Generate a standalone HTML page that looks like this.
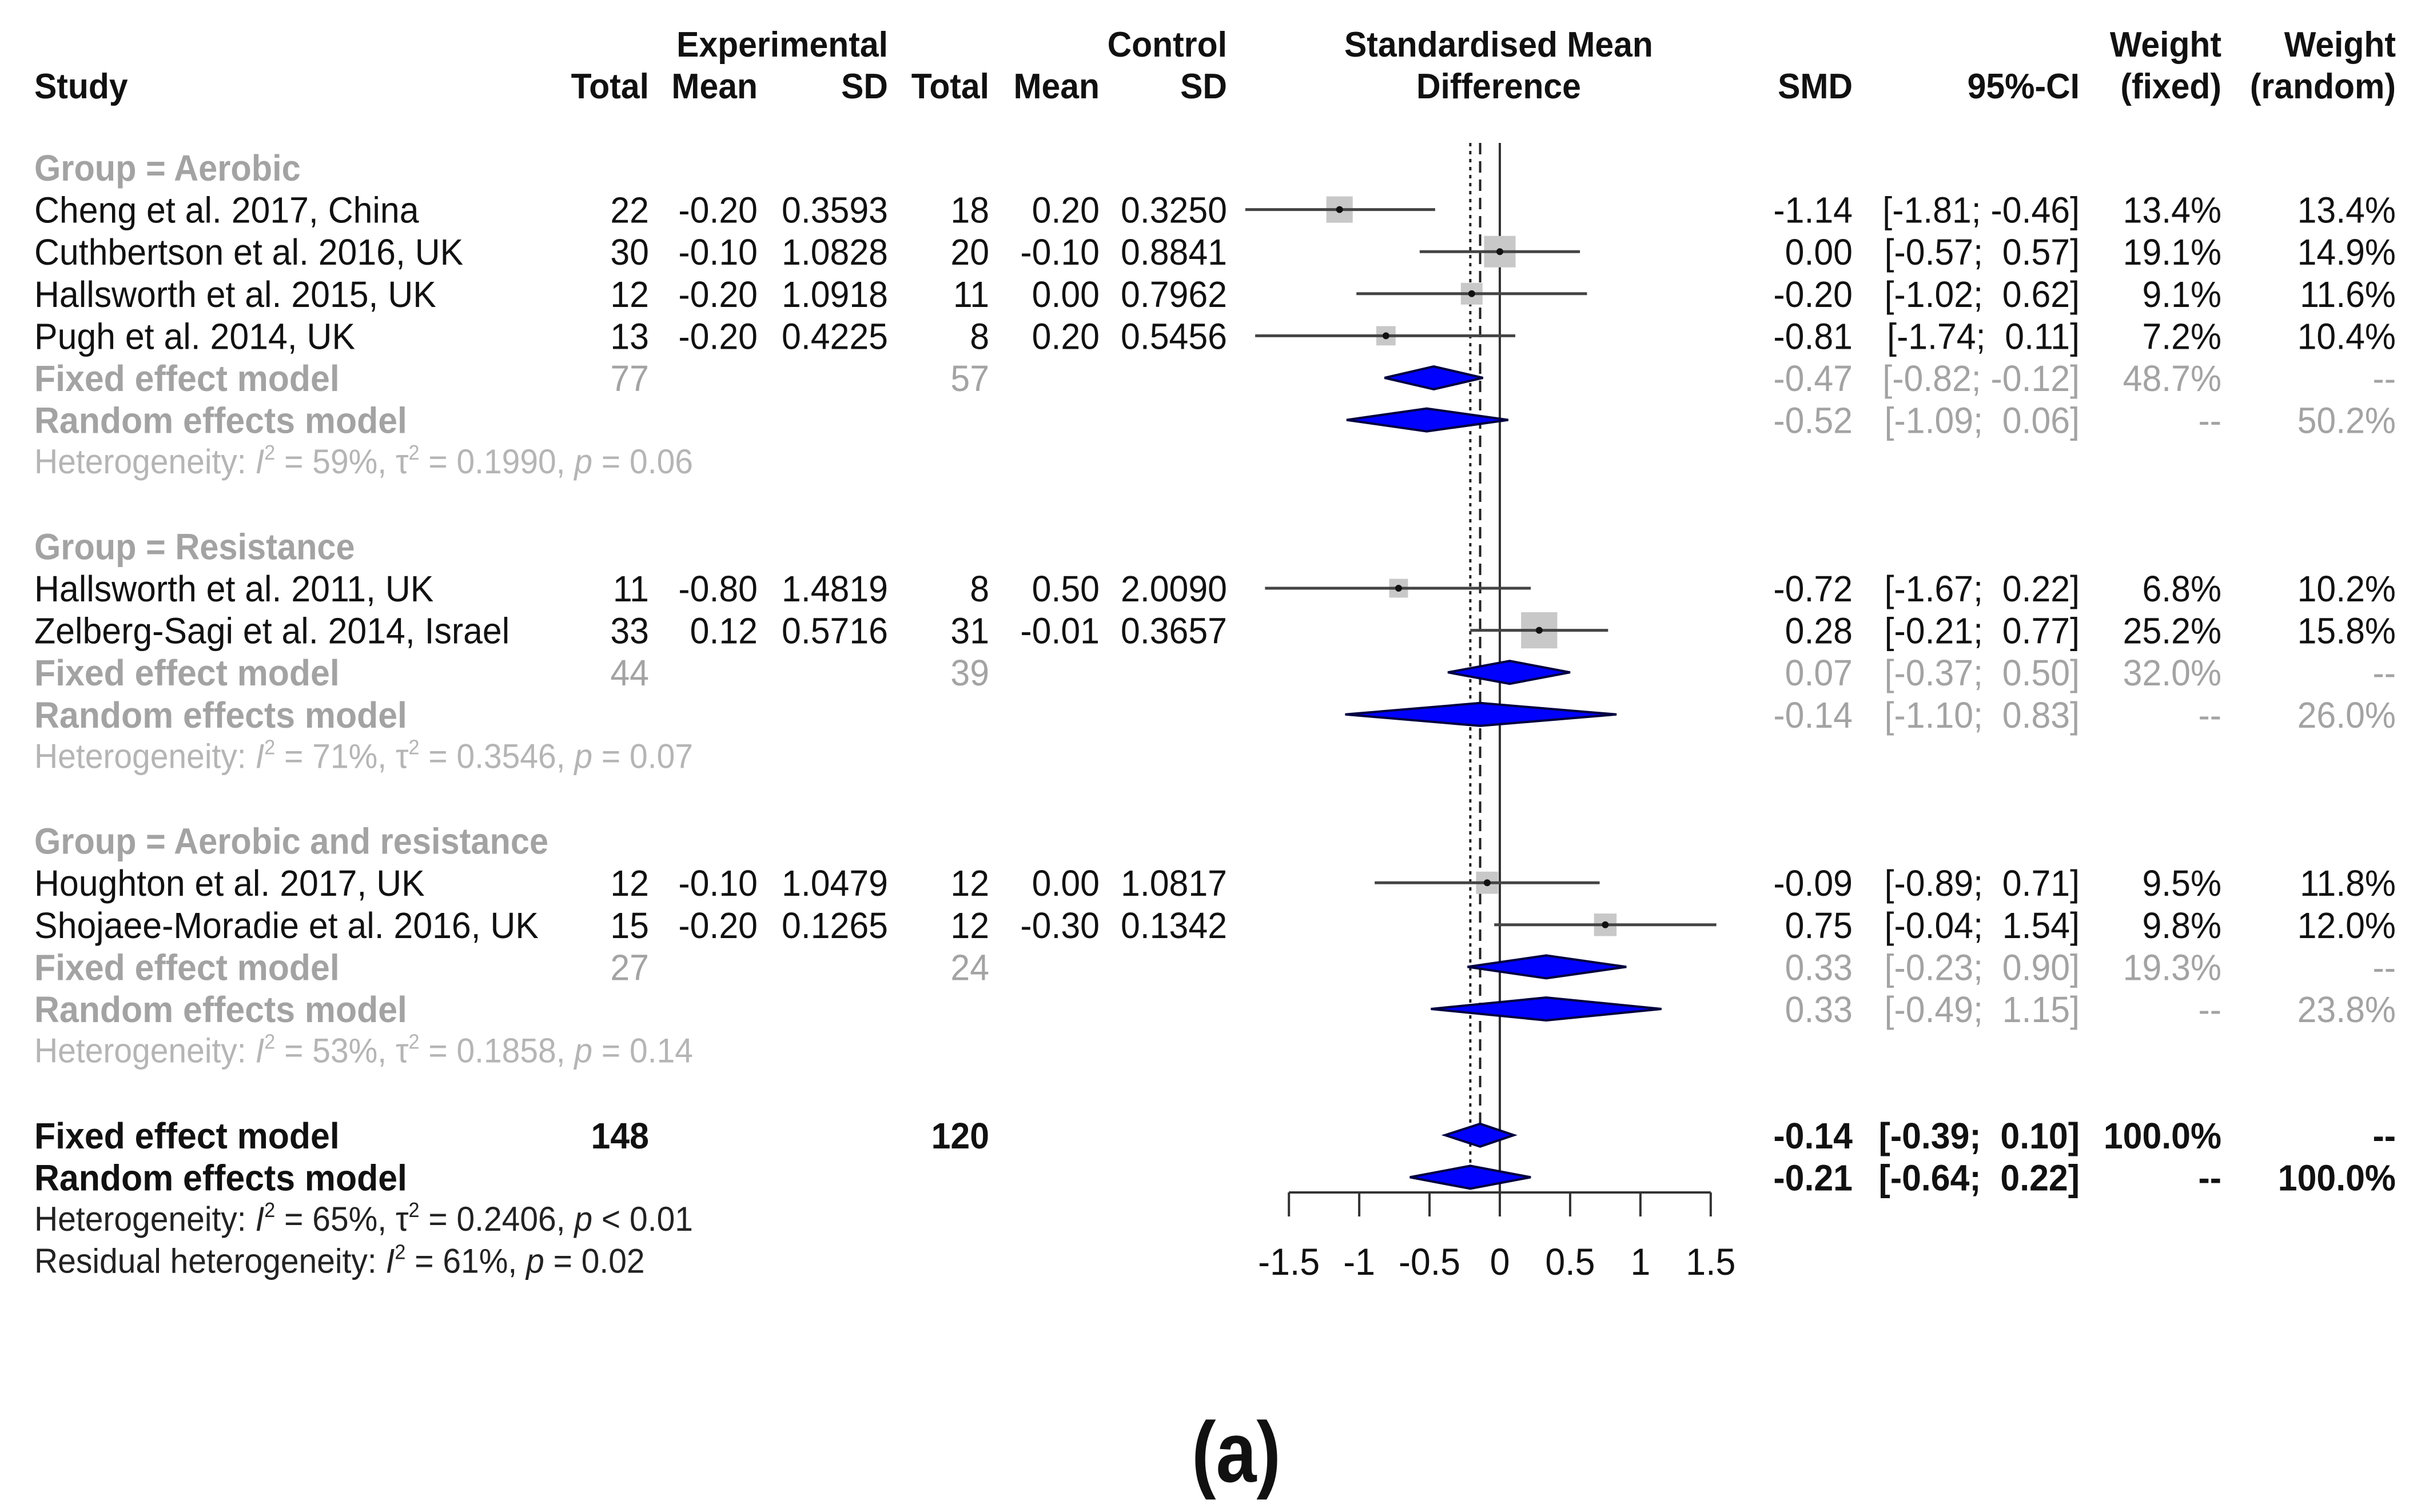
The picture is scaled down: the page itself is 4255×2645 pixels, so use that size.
<!DOCTYPE html>
<html><head><meta charset="utf-8"><style>
html,body{margin:0;padding:0;background:#fff;}
svg{display:block;font-family:"Liberation Sans",Arial,sans-serif;}
text{white-space:pre;}
</style></head><body>
<svg id="chart" width="4255" height="2645" viewBox="0 0 4255 2645" xmlns="http://www.w3.org/2000/svg">
<rect width="4255" height="2645" fill="#fff"/>
<g id="g"></g>
</svg>
<script>
// ---- data ----
const studyNames = ["Cheng et al. 2017, China","Cuthbertson et al. 2016, UK","Hallsworth et al. 2015, UK","Pugh et al. 2014, UK","Hallsworth et al. 2011, UK","Zelberg-Sagi et al. 2014, Israel","Houghton et al. 2017, UK","Shojaee-Moradie et al. 2016, UK"];
const studyRows = [1,2,3,4,10,11,17,18];
const expTotal = [22,30,12,13,11,33,12,15];
const expMean = ["-0.20","-0.10","-0.20","-0.20","-0.80","0.12","-0.10","-0.20"];
const expSD = ["0.3593","1.0828","1.0918","0.4225","1.4819","0.5716","1.0479","0.1265"];
const ctlTotal = [18,20,11,8,8,31,12,12];
const ctlMean = ["0.20","-0.10","0.00","0.20","0.50","-0.01","0.00","-0.30"];
const ctlSD = ["0.3250","0.8841","0.7962","0.5456","2.0090","0.3657","1.0817","0.1342"];
const smd = [-1.14,0.00,-0.20,-0.81,-0.72,0.28,-0.09,0.75];
const ciLo = [-1.81,-0.57,-1.02,-1.74,-1.67,-0.21,-0.89,-0.04];
const ciHi = [-0.46,0.57,0.62,0.11,0.22,0.77,0.71,1.54];
const wFixed = [13.4,19.1,9.1,7.2,6.8,25.2,9.5,9.8];
const wRandom = [13.4,14.9,11.6,10.4,10.2,15.8,11.8,12.0];

const groupNames = ["Group = Aerobic","Group = Resistance","Group = Aerobic and resistance"];
const groupRows = [0,9,16];
const grpExpTotal = [77,44,27];
const grpCtlTotal = [57,39,24];
const grpFixed = [-0.47,0.07,0.33];
const grpFixedLo = [-0.82,-0.37,-0.23];
const grpFixedHi = [-0.12,0.50,0.90];
const grpFixedW = ["48.7%","32.0%","19.3%"];
const grpRandom = [-0.52,-0.14,0.33];
const grpRandomLo = [-1.09,-1.10,-0.49];
const grpRandomHi = [0.06,0.83,1.15];
const grpRandomW = ["50.2%","26.0%","23.8%"];
const grpHet = [["59%","0.1990","= 0.06"],["71%","0.3546","= 0.07"],["53%","0.1858","= 0.14"]];

const allFixed = [-0.14,-0.39,0.10];
const allRandom = [-0.21,-0.64,0.22];
const allTotals = [148,120];
const xTicks = [-1.5,-1,-0.5,0,0.5,1,1.5];
const xTickLabels = ["-1.5","-1","-0.5","0","0.5","1","1.5"];

// ---- layout ----
const NS="http://www.w3.org/2000/svg";
const G=document.getElementById('g');
const X0=2623, XS=245.9;
function xs(v){return X0+v*XS;}
function ry(r){return 293+r*73.6;}
const SX=0.95;
function el(tag,attrs,parent){const e=document.createElementNS(NS,tag);for(const k in attrs)e.setAttribute(k,attrs[k]);(parent||G).appendChild(e);return e;}
function txt(x,y,s,opt){
  opt=opt||{};
  const sx=opt.sx||SX;
  const t=el('text',{x:(x/sx).toFixed(1),y:y.toFixed(1),'font-size':opt.size||64,fill:opt.fill||'#111','text-anchor':opt.anchor||'start','font-weight':opt.bold?'bold':'normal',transform:'scale('+sx+',1)'});
  t.textContent=s;
  return t;
}
function v2(v){return v.toFixed(2);}
function ci(lo,hi){return '['+v2(lo)+'; '+(hi<0?'':' ')+v2(hi)+']';}
const BL=23;
const GRAY='#a3a3a3', LGRAY='#b5b5b5';
const C={et:1135,em:1325,esd:1553,ct:1730,cm:1923,csd:2146,smd:3240,ci:3637,wf:3885,wr:4190};
function sup(){return '<tspan dy="-24" font-size="36">2</tspan><tspan dy="24">';}

// headers
let h;
h=txt(60,172,'Study',{bold:true,size:62});
h=txt(C.esd,99,'Experimental',{bold:true,size:62,anchor:'end'});
h=txt(C.csd,99,'Control',{bold:true,size:62,anchor:'end'});
[['Total',C.et],['Mean',C.em],['SD',C.esd],['Total',C.ct],['Mean',C.cm],['SD',C.csd],['SMD',C.smd],['95%-CI',C.ci],['(fixed)',C.wf],['(random)',C.wr]].forEach(a=>{
  const t=txt(a[1],172,a[0],{bold:true,size:62,anchor:'end'});
  
  
});
h=txt(C.wf,99,'Weight',{bold:true,size:62,anchor:'end'});
h=txt(C.wr,99,'Weight',{bold:true,size:62,anchor:'end'});
h=txt(2621,99,'Standardised Mean',{bold:true,size:62,anchor:'middle'});
h=txt(2621,172,'Difference',{bold:true,size:62,anchor:'middle'});

// reference lines
const yTop=250, yAxis=2086;
let ln=el('line',{x1:xs(0),x2:xs(0),y1:yTop,y2:yAxis,stroke:'#333','stroke-width':4});

ln=el('line',{x1:xs(allFixed[0]),x2:xs(allFixed[0]),y1:yTop,y2:ry(23),stroke:'#222','stroke-width':4,'stroke-dasharray':'20 12'});

ln=el('line',{x1:xs(allRandom[0]),x2:xs(allRandom[0]),y1:yTop,y2:ry(24),stroke:'#222','stroke-width':4,'stroke-dasharray':'6 8'});


function diamond(est,lo,hi,y,name){
  const p=el('polygon',{points:`${xs(lo)},${y} ${xs(est)},${y-20} ${xs(hi)},${y} ${xs(est)},${y+20}`,fill:'#0000ff',stroke:'#000040','stroke-width':4});
  
  
}

// studies
studyNames.forEach((n,i)=>{
  const y=ry(studyRows[i]);
  let t=txt(60,y+BL,n);
  const vals=[[C.et,String(expTotal[i])],[C.em,expMean[i]],[C.esd,expSD[i]],[C.ct,String(ctlTotal[i])],[C.cm,ctlMean[i]],[C.csd,ctlSD[i]],[C.smd,v2(smd[i])],[C.ci,ci(ciLo[i],ciHi[i])],[C.wf,wFixed[i].toFixed(1)+'%'],[C.wr,wRandom[i].toFixed(1)+'%']];
  vals.forEach(v=>{const tt=txt(v[0],y+BL,v[1],{anchor:'end'});});
  const s=12.6*Math.sqrt(wFixed[i]);
  const r=el('rect',{x:xs(smd[i])-s/2,y:y-s/2,width:s,height:s,fill:'#c8c8c8'});
  
  const l=el('line',{x1:xs(ciLo[i]),x2:xs(ciHi[i]),y1:y,y2:y,stroke:'#444','stroke-width':5});
  
  const d=el('circle',{cx:xs(smd[i]),cy:y,r:6,fill:'#111'});
  
});

// groups
groupNames.forEach((n,g)=>{
  const r0=groupRows[g];
  const nStud=studyRows.filter(r=>r>r0&&r<r0+7).length;
  const rf=r0+nStud+1, rr=rf+1, rh=rr+1;
  let t=txt(60,ry(r0)+BL,n,{fill:GRAY,bold:true,sx:0.93});
  t=txt(60,ry(rf)+BL,'Fixed effect model',{fill:GRAY,bold:true});
  t=txt(60,ry(rr)+BL,'Random effects model',{fill:GRAY,bold:true});
  [[C.et,String(grpExpTotal[g])],[C.ct,String(grpCtlTotal[g])],[C.smd,v2(grpFixed[g])],[C.ci,ci(grpFixedLo[g],grpFixedHi[g])],[C.wf,grpFixedW[g]],[C.wr,'--']].forEach(v=>{
    const tt=txt(v[0],ry(rf)+BL,v[1],{anchor:'end',fill:GRAY});});
  [[C.smd,v2(grpRandom[g])],[C.ci,ci(grpRandomLo[g],grpRandomHi[g])],[C.wf,'--'],[C.wr,grpRandomW[g]]].forEach(v=>{
    const tt=txt(v[0],ry(rr)+BL,v[1],{anchor:'end',fill:GRAY});});
  const ht=txt(60,ry(rh)+20,'',{fill:LGRAY,size:60,sx:0.95});
  
  
  ht.innerHTML='Heterogeneity: <tspan font-style="italic">I</tspan>'+sup()+' = '+grpHet[g][0]+', τ</tspan>'+sup()+' = '+grpHet[g][1]+', </tspan><tspan font-style="italic">p</tspan><tspan> '+grpHet[g][2]+'</tspan>';
  diamond(grpFixed[g],grpFixedLo[g],grpFixedHi[g],ry(rf),'group-fixed-diamond');
  diamond(grpRandom[g],grpRandomLo[g],grpRandomHi[g],ry(rr),'group-random-diamond');
});

// overall
let t=txt(60,ry(23)+BL,'Fixed effect model',{bold:true});
t=txt(60,ry(24)+BL,'Random effects model',{bold:true});
[[C.et,String(allTotals[0])],[C.ct,String(allTotals[1])],[C.smd,v2(allFixed[0])],[C.ci,ci(allFixed[1],allFixed[2])],[C.wf,'100.0%'],[C.wr,'--']].forEach(v=>{
  const tt=txt(v[0],ry(23)+BL,v[1],{anchor:'end',bold:true});});
[[C.smd,v2(allRandom[0])],[C.ci,ci(allRandom[1],allRandom[2])],[C.wf,'--'],[C.wr,'100.0%']].forEach(v=>{
  const tt=txt(v[0],ry(24)+BL,v[1],{anchor:'end',bold:true});});
diamond(allFixed[0],allFixed[1],allFixed[2],ry(23),'overall-fixed-diamond');
diamond(allRandom[0],allRandom[1],allRandom[2],ry(24),'overall-random-diamond');
t=txt(60,ry(25)+20,'',{size:60,fill:'#222',sx:0.95});


t.innerHTML='Heterogeneity: <tspan font-style="italic">I</tspan>'+sup()+' = 65%, τ</tspan>'+sup()+' = 0.2406, </tspan><tspan font-style="italic">p</tspan><tspan> &lt; 0.01</tspan>';
t=txt(60,ry(26)+20,'',{size:60,fill:'#222',sx:0.95});


t.innerHTML='Residual heterogeneity: <tspan font-style="italic">I</tspan>'+sup()+' = 61%, </tspan><tspan font-style="italic">p</tspan><tspan> = 0.02</tspan>';

// axis
const ax=el('line',{x1:xs(xTicks[0]),x2:xs(xTicks[xTicks.length-1]),y1:yAxis,y2:yAxis,stroke:'#333','stroke-width':4});

xTicks.forEach((v,i)=>{
  const tk=el('line',{x1:xs(v),x2:xs(v),y1:yAxis,y2:yAxis+42,stroke:'#333','stroke-width':4});
  
  const lb=txt(xs(v),2230,xTickLabels[i],{anchor:'middle',size:66});
  
});

// caption
const cap=el('text',{x:2162,y:2592,'font-size':150,'font-weight':'bold','text-anchor':'middle',fill:'#111','font-family':'"Liberation Sans",sans-serif',transform:'translate(2162,0) scale(0.85,1) translate(-2162,0)'});
cap.textContent='(a)';


</script>
</body></html>
